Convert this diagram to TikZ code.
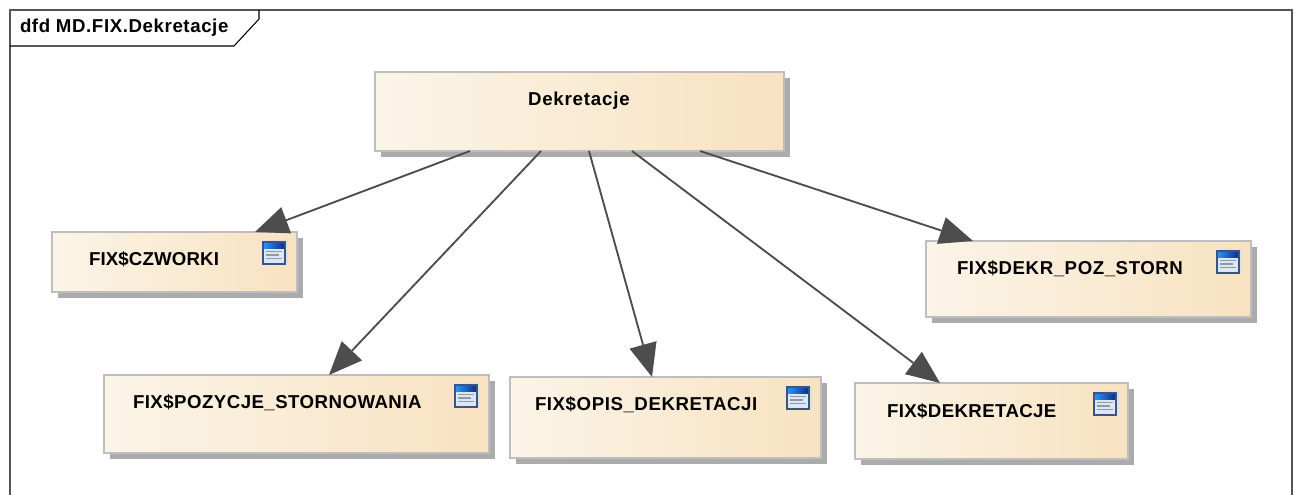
\documentclass[tikz,border=0pt]{standalone}
\usepackage{fontspec}
\setmainfont{Liberation Sans}
\usetikzlibrary{arrows.meta,calc,shadows}
\definecolor{shadowgray}{HTML}{ABABAB}
\definecolor{boxedge}{HTML}{BEBEBE}
\definecolor{boxleft}{HTML}{FBF4E8}
\definecolor{boxright}{HTML}{F8E2C1}
\definecolor{arrowgray}{HTML}{4D4D4D}
\definecolor{framegray}{HTML}{555555}
\definecolor{iconedge}{HTML}{3A5487}
\definecolor{iconbody}{HTML}{DCE6F4}
\definecolor{iconline}{HTML}{8E9AA8}
\definecolor{iconbarl}{HTML}{2A96FF}
\definecolor{iconbarr}{HTML}{0B2C80}
\tikzset{
  x=0.75pt,y=-0.75pt,
  boxnode/.style={draw=boxedge,line width=1.1pt,rectangle,inner sep=0pt,outer sep=0pt,
    left color=boxleft,right color=boxright,
    drop shadow={shadow xshift=4.5pt,shadow yshift=-4.5pt,opacity=1,fill=shadowgray}},
  lbl/.style={anchor=base west,inner sep=0pt,outer sep=0pt,font=\bfseries\fontsize{14pt}{16pt}\selectfont,text=black},
  flow/.style={draw=arrowgray,fill=none,line width=1.4pt,-{Triangle[length=25pt,width=21pt,line width=0pt,fill=arrowgray]}},
  framepath/.style={draw=framegray,line width=1.1pt},
  tabpath/.style={draw=black,line width=0.8pt},
  tableicon/.pic={
    \fill[black!12] (3,-2) rectangle (25,21);
    \fill[iconbody] (0,0) rectangle (22,22);
    \shade[left color=iconbarl,right color=iconbarr] (0,0) rectangle (22,6);
    \foreach \yy/\xx in {9.5/19,13/16,16.5/19}{\draw[iconline,line width=1.3pt] (3,\yy) -- (\xx,\yy);}
    \draw[iconedge,line width=0.9pt] (0,0) rectangle (22,22);
  }
}
\newcommand{\diagbox}[5]{%
  \node[boxnode,anchor=north west,minimum width={(#4-#2)*0.75pt},minimum height={(#5-#3)*0.75pt}] (#1) at (#2,#3) {};}
\newcommand{\ls}[1]{\addfontfeature{LetterSpace=#1}}
\begin{document}
\begin{tikzpicture}
\useasboundingbox (0,0) rectangle (1301,495);
% frame
\coordinate (fbl) at (10,495);
\coordinate (ftl) at (10,10);
\coordinate (ftr) at (1292,10);
\coordinate (fbr) at (1292,495);
\draw[framepath] (fbl) -- (ftl) -- (ftr) -- (fbr);
\draw[tabpath] (10,46) -- (234,46) -- (259,19) -- (259,10);
\node[lbl] (title) at (20,32.5) {\ls{3.2}dfd MD.FIX.Dekretacje};
% boxes
\diagbox{dek}{375}{72}{784}{151}
\diagbox{cz}{52}{232}{297}{292}
\diagbox{pz}{104}{375}{489}{453}
\diagbox{op}{510}{377}{821}{458}
\diagbox{de}{855}{383}{1128}{459}
\diagbox{st}{926}{241}{1251}{317}
% labels
\node[lbl] (tdek) at (528,105.5) {\ls{4.3}Dekretacje};
\node[lbl] (tcz) at (89,265.5) {\ls{0.75}FIX\$CZWORKI};
\node[lbl] (tpz) at (133,408.5) {\ls{2.4}FIX\$POZYCJE\_STORNOWANIA};
\node[lbl] (top) at (535,410) {\ls{3}FIX\$OPIS\_DEKRETACJI};
\node[lbl] (tde) at (887,417) {\ls{2}FIX\$DEKRETACJE};
\node[lbl] (tst) at (957,274) {\ls{3}FIX\$DEKR\_POZ\_STORN};
% table icons
\pic at ($(cz.north east)+(-34,10)$) {tableicon};
\pic at ($(pz.north east)+(-34,10)$) {tableicon};
\pic at ($(op.north east)+(-34,10)$) {tableicon};
\pic at ($(de.north east)+(-34,10)$) {tableicon};
\pic at ($(st.north east)+(-34,10)$) {tableicon};
% connectors
\draw[flow] ($(dek.south west)+(95,0)$) -- ($(cz.north west)+(203,0)$);
\draw[flow] ($(dek.south west)+(166,0)$) -- ($(pz.north west)+(225,0)$);
\draw[flow] ($(dek.south west)+(214,0)$) -- ($(op.north west)+(142,0)$);
\draw[flow] ($(dek.south west)+(257,0)$) -- ($(de.north west)+(85,0)$);
\draw[flow] ($(dek.south west)+(325,0)$) -- ($(st.north west)+(47,0)$);
\end{tikzpicture}
\end{document}
